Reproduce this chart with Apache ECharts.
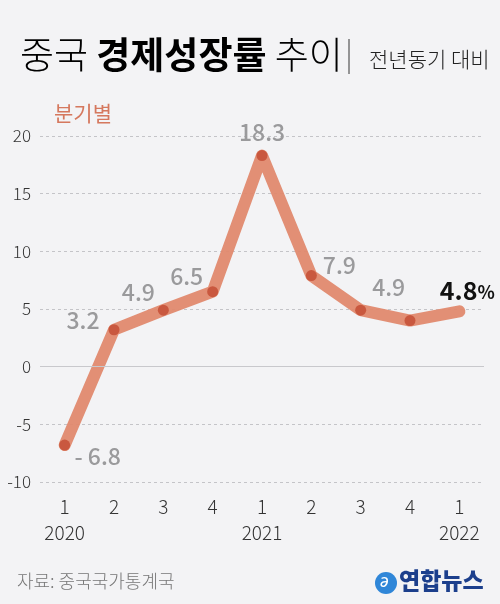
<!DOCTYPE html>
<html>
<head>
<meta charset="utf-8">
<script src="https://cdn.jsdelivr.net/npm/echarts@6/dist/echarts.min.js"></script>
<style>
  html, body { margin: 0; padding: 0; background: #f3f3f5; }
  #chart { width: 500px; height: 604px; }
</style>
</head>
<body>
<div id="chart"></div>
<script>
// 분기별 중국 경제성장률 (전년동기 대비, %)
var quarters = ["1", "2", "3", "4", "1", "2", "3", "4", "1"];
var years = ["2020", "", "", "", "2021", "", "", "", "2022"];
var growth = [-6.8, 3.2, 4.9, 6.5, 18.3, 7.9, 4.9, 4.0, 4.8];
var yTicks = [-10, -5, 0, 5, 10, 15, 20];

var FONT = '"Noto Sans CJK KR", "Noto Sans", sans-serif';

// 라벨 위치 (점 기준 px)
var labelOffsets = [[33, 11], [-31, -9], [-25, -18], [-26, -15], [0, -23], [28, -10], [28, -23], null, [8, -21]];

function buildData(){
  var out = [];
  for (var i = 0; i < growth.length; i++) {
    var v = growth[i];
    var item = { value: v };
    var off = labelOffsets[i];
    if (!off) {
      item.label = { show: false };
    } else if (i === growth.length - 1) {
      item.symbolSize = 0;
      item.label = {
        show: true, position: "inside", offset: off,
        formatter: "{v|" + v.toFixed(1) + "}{p|%}",
        rich: {
          v: { fontSize: 25, fontWeight: "bold", color: "#111", fontFamily: FONT },
          p: { fontSize: 18, fontWeight: "bold", color: "#111", fontFamily: FONT, padding: [4, 0, 0, 0] }
        }
      };
    } else {
      item.label = {
        show: true, position: "inside", offset: off,
        formatter: v < 0 ? "- " + Math.abs(v).toFixed(1) : v.toFixed(1)
      };
    }
    out.push(item);
  }
  return out;
}

var myChart = echarts.init(document.getElementById("chart"));
myChart.setOption({
  backgroundColor: "#f3f3f5",
  animation: false,
  grid: { left: 40, right: 16, top: 136, bottom: 122 },
  xAxis: {
    type: "category",
    data: quarters,
    boundaryGap: true,
    axisLine: { show: false },
    axisTick: { show: false },
    splitLine: { show: false },
    axisLabel: {
      interval: 0,
      margin: 12,
      color: "#333",
      fontSize: 19,
      fontFamily: FONT,
      fontWeight: 300,
      lineHeight: 26,
      formatter: function(val, idx){
        return years[idx] ? val + "\n" + years[idx] : val;
      }
    }
  },
  yAxis: {
    type: "value",
    min: yTicks[0],
    max: yTicks[yTicks.length - 1],
    interval: 5,
    axisLine: { show: false },
    axisTick: { show: false },
    axisLabel: { color: "#333", fontSize: 17, fontFamily: FONT, fontWeight: 300, margin: 9 },
    splitLine: { lineStyle: { color: "#c4c4c8", type: [3, 3], width: 1 } }
  },
  series: [{
    type: "line",
    data: buildData(),
    symbol: "circle",
    symbolSize: 11,
    itemStyle: { color: "#c9583f" },
    lineStyle: { color: "#e0896e", width: 12, cap: "round", join: "round", opacity: 0.95 },
    label: {
      color: "#9a9a9c",
      fontSize: 23,
      fontWeight: 500,
      fontFamily: FONT,
      align: "center",
      verticalAlign: "middle"
    },
    markLine: {
      silent: true,
      symbol: "none",
      label: { show: false },
      lineStyle: { color: "#c8c8cc", type: "solid", width: 1 },
      data: [{ yAxis: 0 }]
    }
  }],
  graphic: [
    {
      type: "text", left: 20, top: 36,
      style: {
        text: "{a|중국 }{b|경제성장률}{a| 추이}",
        rich: {
          a: { fontSize: 37, color: "#333", fontFamily: FONT, fontWeight: 300 },
          b: { fontSize: 37, color: "#111", fontFamily: FONT, fontWeight: "bold" }
        }
      }
    },
    {
      type: "line",
      shape: { x1: 349, y1: 39, x2: 349, y2: 74 },
      style: { stroke: "#555", lineWidth: 1.2 }
    },
    {
      type: "text", left: 369, top: 49,
      style: { text: "전년동기 대비", fontSize: 21, fill: "#222", fontFamily: FONT, fontWeight: 300 }
    },
    {
      type: "text", left: 54, top: 103,
      style: { text: "분기별", fontSize: 21, fill: "#d5785e", fontFamily: FONT }
    },
    {
      type: "text", left: 17, top: 572,
      style: { text: "자료: 중국국가통계국", fontSize: 18, fill: "#777", fontFamily: FONT, fontWeight: 300 }
    },
    {
      type: "circle",
      shape: { cx: 386, cy: 583, r: 11 },
      style: { fill: "#2f86d8" }
    },
    {
      type: "text", left: 380, top: 571,
      style: { text: "ə", fontSize: 18, fontStyle: "italic", fill: "#fff", fontFamily: FONT }
    },
    {
      type: "text", left: 399, top: 569,
      style: { text: "연합뉴스", fontSize: 23, fontWeight: 900, fill: "#1c3f8c", fontFamily: FONT }
    }
  ]
});
</script>
</body>
</html>
